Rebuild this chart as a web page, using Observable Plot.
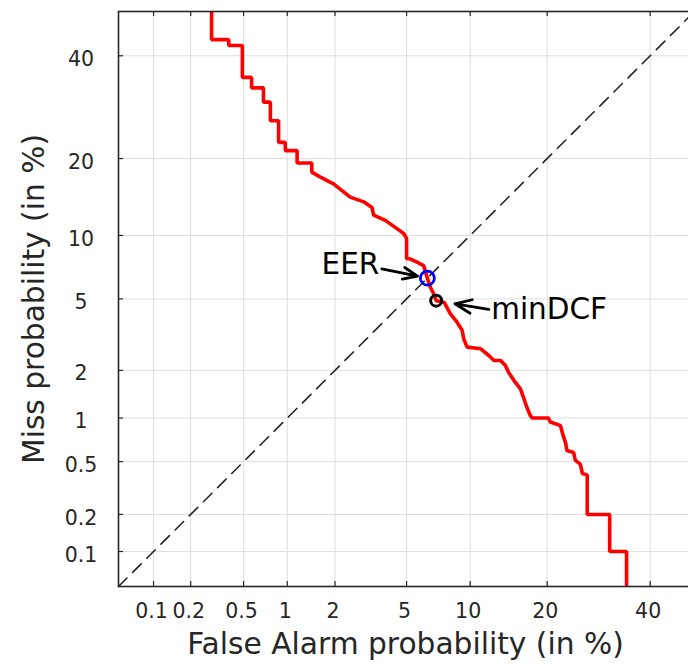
<!DOCTYPE html>
<html>
<head>
<meta charset="utf-8">
<script src="https://cdn.jsdelivr.net/npm/d3@7"></script>
<script src="https://cdn.jsdelivr.net/npm/@observablehq/plot@0.6"></script>
<style>
  html, body { margin: 0; padding: 0; background: white; overflow: hidden; }
</style>
</head>
<body>
<div id="chart"></div>
<script>
// ---- data (percent) ----
const xTicks = [0.1, 0.2, 0.5, 1, 2, 5, 10, 20, 40];
const yTicks = [0.1, 0.2, 0.5, 1, 2, 5, 10, 20, 40];
const axisDomain = [0.05, 50];

// DET curve: false alarm % and miss %
const pfa = [0.29, 0.29, 0.39, 0.39, 0.49, 0.49, 0.57, 0.57, 0.69, 0.69, 0.77, 0.77, 0.875, 0.875, 0.97, 0.97,
  1.16, 1.16, 1.44, 1.44, 1.62, 1.96, 2.46, 2.94, 3.27, 3.34, 3.87, 4.46, 4.83, 5.0, 5.0, 5.2, 5.65, 6.09,
  6.35, 6.57, 6.81, 7.0, 7.65, 8.16, 8.75, 9.22, 9.37, 9.70, 11.1, 12.0, 12.6, 13.4, 14.0, 14.4, 15.1, 16.0,
  16.5, 16.9, 17.4, 17.7, 20.2, 20.5, 22.2, 22.5, 23.1, 23.3, 24.5, 24.8, 25.7, 26.1, 27.0, 27.0, 31.4, 31.4,
  34.9, 34.9];
const pmiss = [50, 43.6, 43.6, 42.3, 42.3, 35.3, 35.3, 33.1, 33.1, 30.2, 30.2, 26.6, 26.6, 22.7, 22.7, 21.3,
  21.3, 19.3, 19.3, 17.9, 17.2, 16.2, 14.4, 13.8, 13.1, 12.2, 11.6, 10.7, 10.2, 9.7, 7.85, 7.85, 7.57, 7.3,
  6.35, 5.73, 5.31, 4.9, 4.79, 4.18, 3.77, 3.40, 3.05, 2.74, 2.68, 2.45, 2.29, 2.29, 2.14, 1.95, 1.74, 1.54,
  1.33, 1.18, 1.04, 1.0, 1.0, 0.94, 0.89, 0.80, 0.67, 0.60, 0.58, 0.51, 0.48, 0.41, 0.40, 0.2, 0.2, 0.1,
  0.1, 0.05];

const eer = {x: 6.35, y: 6.35, label: "EER"};
const minDcf = {x: 7.0, y: 4.9, label: "minDCF"};
const eerArrowFrom = {x: 3.7, y: 7.04};
const dcfArrowFrom = {x: 12.0, y: 4.41};
const diagX = [0.05, 50];
const diagY = [0.05, 50];

const xLabel = "False Alarm probability (in %)";
const yLabel = "Miss probability (in %)";

// inverse standard normal CDF (Acklam)
function probit(p) {
  const a=[-3.969683028665376e+01,2.209460984245205e+02,-2.759285104469687e+02,1.383577518672690e+02,-3.066479806614716e+01,2.506628277459239e+00];
  const b=[-5.447609879822406e+01,1.615858368580409e+02,-1.556989798598866e+02,6.680131188771972e+01,-1.328068155288572e+01];
  const c=[-7.784894002430293e-03,-3.223964580411365e-01,-2.400758277161838e+00,-2.549732539343734e+00,4.374664141464968e+00,2.938163982698783e+00];
  const d=[7.784695709041462e-03,3.224671290700398e-01,2.445134137142996e+00,3.754408661907416e+00];
  const pl = 0.02425, ph = 1 - pl;
  let q, r;
  if (p < pl) { q = Math.sqrt(-2*Math.log(p)); return (((((c[0]*q+c[1])*q+c[2])*q+c[3])*q+c[4])*q+c[5])/((((d[0]*q+d[1])*q+d[2])*q+d[3])*q+1); }
  if (p <= ph) { q = p - 0.5; r = q*q; return (((((a[0]*r+a[1])*r+a[2])*r+a[3])*r+a[4])*r+a[5])*q/(((((b[0]*r+b[1])*r+b[2])*r+b[3])*r+b[4])*r+1); }
  q = Math.sqrt(-2*Math.log(1-p)); return -(((((c[0]*q+c[1])*q+c[2])*q+c[3])*q+c[4])*q+c[5])/((((d[0]*q+d[1])*q+d[2])*q+d[3])*q+1);
}
const P = v => probit(v / 100);

const curve = pfa.map((x, i) => ({x, y: pmiss[i]}));
const diag = diagX.map((x, i) => ({x, y: diagY[i]}));

const axisColor = "#262626";
const gridColor = "#dedede";

const plot = Plot.plot({
  width: 688,
  height: 664,
  marginLeft: 118,
  marginRight: -6,
  marginTop: 11,
  marginBottom: 78,
  x: {type: "linear", domain: axisDomain.map(P), axis: null},
  y: {type: "linear", domain: axisDomain.map(P), axis: null},
  style: {fontFamily: "DejaVu Sans", fontSize: "20px", color: axisColor, background: "white"},
  marks: [
    // grid
    Plot.ruleX(xTicks, {x: P, stroke: gridColor, strokeWidth: 1}),
    Plot.ruleY(yTicks, {y: P, stroke: gridColor, strokeWidth: 1}),
    // inward tick marks
    Plot.ruleX(xTicks, {x: P, insetTop: 570, stroke: axisColor, strokeWidth: 1.2}),
    Plot.ruleX(xTicks, {x: P, insetBottom: 570, stroke: axisColor, strokeWidth: 1.2}),
    Plot.ruleY(yTicks, {y: P, insetRight: 571, stroke: axisColor, strokeWidth: 1.2}),
    // diagonal
    Plot.line(diag, {x: d => P(d.x), y: d => P(d.y), stroke: axisColor, strokeWidth: 1.6, strokeDasharray: "12,8"}),
    // DET curve
    Plot.line(curve, {x: d => P(d.x), y: d => P(d.y), stroke: "#ff0000", strokeWidth: 3.6, strokeLinejoin: "miter", clip: true}),
    // points
    Plot.dot([eer], {x: d => P(d.x), y: d => P(d.y), r: 7, stroke: "#0000ff", strokeWidth: 2.8, fill: "none"}),
    Plot.dot([minDcf], {x: d => P(d.x), y: d => P(d.y), r: 5.5, stroke: "#000000", strokeWidth: 3, fill: "none"}),
    // arrows
    Plot.arrow([{from: eerArrowFrom, to: eer}], {
      x1: d => P(d.from.x), y1: d => P(d.from.y), x2: d => P(d.to.x), y2: d => P(d.to.y),
      insetEnd: 10, headLength: 15, headAngle: 45, stroke: "#000", strokeWidth: 2.8
    }),
    Plot.arrow([{from: dcfArrowFrom, to: minDcf}], {
      x1: d => P(d.from.x), y1: d => P(d.from.y), x2: d => P(d.to.x), y2: d => P(d.to.y),
      insetEnd: 19, headLength: 15, headAngle: 45, stroke: "#000", strokeWidth: 2.8
    }),
    // annotation labels
    Plot.text([eer], {x: d => P(d.x), y: d => P(d.y), text: d => d.label, textAnchor: "end", lineAnchor: "bottom",
      dx: -48, dy: -4, fontSize: 29.5, fill: "#000"}),
    Plot.text([minDcf], {x: d => P(d.x), y: d => P(d.y), text: d => d.label, textAnchor: "start", lineAnchor: "bottom",
      dx: 55, dy: 18.5, fontSize: 29.5, fill: "#000"}),
    // tick labels
    Plot.text(xTicks, {x: P, frameAnchor: "bottom", lineAnchor: "top", dy: 16.8, dx: -2, text: d => String(d), fontSize: 20.5, fill: axisColor}),
    Plot.text(yTicks, {y: P, frameAnchor: "left", textAnchor: "middle", dx: -37.5, dy: 3.5, text: d => String(d), fontSize: 20.5, fill: axisColor}),
    // axis labels
    Plot.text([xLabel], {frameAnchor: "bottom", lineAnchor: "bottom", dy: 67, dx: -1, text: d => d, fontSize: 29.7, fill: axisColor}),
    Plot.text([yLabel], {frameAnchor: "left", rotate: -90, lineAnchor: "bottom", textAnchor: "middle", dx: -74.7, text: d => d, fontSize: 29.7, fill: axisColor}),
    // frame
    Plot.frame({stroke: axisColor, strokeWidth: 1.6})
  ]
});
document.getElementById("chart").appendChild(plot);
</script>
</body>
</html>
